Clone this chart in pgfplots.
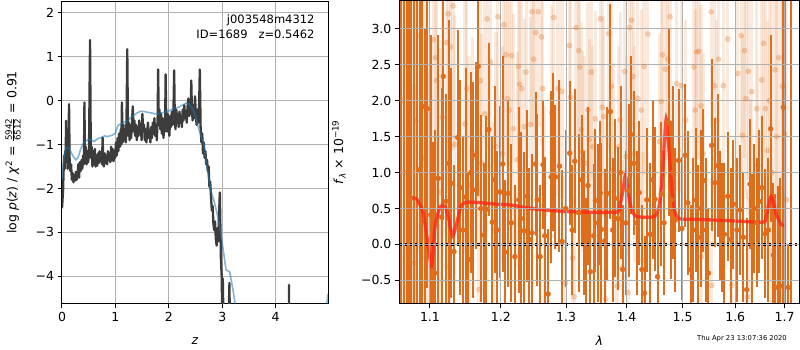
\documentclass[border=0pt]{standalone}
\usepackage{fontspec}
\setmainfont{DejaVu Sans}
\usepackage{amsmath}
\usepackage{pgfplots}
\pgfplotsset{compat=1.18}
\definecolor{darkline}{RGB}{60,60,60}
\definecolor{bluel}{RGB}{31,119,180}
\definecolor{gridc}{RGB}{176,176,176}
\definecolor{orng}{RGB}{222,110,28}
\definecolor{modelred}{RGB}{255,40,20}
\pgfplotsset{
 mystyle/.style={
  scale only axis, anchor=south west,
  tick align=outside, major tick length=4.4pt,
  xtick pos=bottom, ytick pos=left,
  grid=major, major grid style={gridc, line width=1pt},
  axis line style={line width=1pt}, major tick style={black, line width=1pt},
  tick label style={font=\fontsize{12.5}{15}\selectfont},
  label style={font=\fontsize{12.5}{15}\selectfont},
  /pgf/number format/assume math mode=true,
 }
}
\begin{document}
\begin{tikzpicture}
\useasboundingbox (0,0) rectangle (800pt,350pt);
% ---------------- left panel ----------------
\begin{axis}[mystyle, at={(62pt,46pt)}, width=266pt, height=303pt,
  xmin=0, xmax=4.98, ymin=-4.63, ymax=2.27,
  xtick={0,1,2,3,4}, xticklabels={0,1,2,3,4},
  ytick={-4,-3,-2,-1,0,1,2}, yticklabels={−4,−3,−2,−1,0,1,2},
  xlabel={\textit{z}},
  ylabel={log \textit{p}(\textit{z}) / \textit{χ}\textsuperscript{2} = $\frac{\text{5942}}{\text{6512}}$ = 0.91},
  xlabel style={at={(axis description cs:0.5,-0.122)}, anchor=center},
  ylabel style={at={(axis description cs:-0.184,0.5)}, anchor=center},
]
\addplot[darkline, line width=2.3pt, line join=round] coordinates {
(0.000,-2.45)(0.010,-2.25)(0.020,-2.05)(0.030,-1.60)(0.040,-1.25)(0.050,-1.55)(0.060,-1.15)(0.070,-1.40)(0.075,-0.46)(0.085,-1.35)(0.095,-1.15)(0.105,-1.55)(0.115,-1.20)(0.125,-0.60)(0.132,-0.08)(0.142,-1.30)(0.155,-1.60)(0.170,-1.45)(0.185,-1.80)(0.200,-1.65)(0.215,-1.86)(0.230,-1.70)(0.245,-1.82)(0.260,-1.62)(0.275,-1.80)(0.290,-1.70)(0.305,-1.45)(0.320,-1.75)(0.335,-1.40)(0.350,-1.60)(0.365,-1.35)(0.380,-1.55)(0.395,-1.25)(0.410,-1.45)(0.420,-0.04)(0.430,-1.35)(0.445,-1.05)(0.460,-1.45)(0.475,-1.15)(0.490,-1.40)(0.505,-1.20)(0.525,1.38)(0.540,-1.30)(0.555,-1.05)(0.570,-1.50)(0.585,-1.15)(0.600,-1.45)(0.615,-1.10)(0.630,-1.50)(0.645,-1.25)(0.660,-1.48)(0.675,-1.20)(0.690,-1.42)(0.705,-1.15)(0.720,-1.38)(0.735,-1.20)(0.750,-1.45)(0.760,-0.84)(0.772,-1.35)(0.785,-1.50)(0.800,-1.20)(0.815,-1.42)(0.830,-1.25)(0.845,-1.45)(0.860,-1.15)(0.875,-1.35)(0.890,-1.20)(0.905,-1.40)(0.920,-1.05)(0.935,-1.35)(0.950,-1.10)(0.965,-1.38)(0.980,-1.15)(0.995,-1.30)(1.010,-0.95)(1.025,-1.25)(1.040,-0.85)(1.055,-1.15)(1.070,-0.75)(1.085,-1.05)(1.100,-0.65)(1.112,-1.00)(1.122,-0.04)(1.135,-0.95)(1.150,-0.55)(1.165,-0.90)(1.180,-0.70)(1.195,-0.95)(1.208,-0.45)(1.222,1.17)(1.236,-0.80)(1.250,-0.50)(1.265,-0.90)(1.280,-0.55)(1.295,-0.85)(1.310,-0.50)(1.325,-0.13)(1.340,-0.70)(1.355,-0.45)(1.370,-0.80)(1.385,-0.55)(1.400,-0.90)(1.415,-0.60)(1.430,-0.80)(1.445,-0.45)(1.460,-0.75)(1.475,-0.55)(1.490,-0.90)(1.505,-0.30)(1.520,-0.70)(1.535,-0.55)(1.550,-0.90)(1.565,-0.65)(1.580,-0.95)(1.595,-0.70)(1.610,-0.50)(1.625,-0.85)(1.640,-0.70)(1.655,-0.95)(1.670,-0.60)(1.685,-0.85)(1.700,-0.50)(1.715,-0.75)(1.730,-0.40)(1.745,-0.80)(1.760,-0.55)(1.775,-0.90)(1.790,-0.45)(1.800,0.71)(1.812,-0.55)(1.825,-0.20)(1.840,-0.65)(1.855,-0.30)(1.870,-0.75)(1.885,-0.40)(1.900,-0.85)(1.915,-0.50)(1.930,-0.70)(1.940,0.60)(1.952,-0.45)(1.965,-0.70)(1.980,-0.30)(1.995,-0.55)(2.010,-0.80)(2.025,-0.35)(2.040,-0.60)(2.055,-0.25)(2.070,-0.55)(2.085,-0.35)(2.100,0.69)(2.112,-0.45)(2.125,-0.65)(2.140,-0.20)(2.155,-0.50)(2.170,-0.30)(2.185,-0.60)(2.200,-0.25)(2.215,-0.50)(2.230,-0.35)(2.245,-0.60)(2.260,-0.20)(2.275,-0.45)(2.290,-0.10)(2.305,-0.40)(2.320,-0.25)(2.335,-0.50)(2.350,-0.15)(2.365,0.05)(2.380,-0.35)(2.395,-0.05)(2.410,-0.30)(2.420,0.46)(2.432,-0.20)(2.445,-0.45)(2.460,-0.10)(2.475,-0.40)(2.490,0.10)(2.505,-0.30)(2.520,-0.55)(2.535,-0.20)(2.550,-0.50)(2.565,-0.25)(2.580,0.71)(2.595,-0.60)(2.610,-0.95)(2.625,-0.75)(2.640,-1.20)(2.655,-0.95)(2.670,-1.30)(2.685,-1.15)(2.700,-1.45)(2.715,-1.35)(2.730,-1.60)(2.745,-1.50)(2.760,-1.96)(2.775,-1.85)(2.790,-2.20)(2.805,-2.50)(2.820,-2.40)(2.835,-2.80)(2.850,-2.95)(2.865,-2.75)(2.880,-3.15)(2.895,-3.30)(2.910,-2.90)(2.925,-3.20)(2.940,-2.60)(2.955,-2.09)(2.975,-3.60)(2.990,-4.00)(3.000,-5.00)(3.010,-4.05)(3.030,-5.50)(3.100,-6.00)(3.135,-4.15)(3.150,-6.00)(3.200,-8.00)(4.245,-8.00)(4.250,-4.20)(4.255,-8.00)
};
\addplot[bluel, opacity=0.55, line width=1.6pt] coordinates {
(0.00,-1.80)(0.02,-1.50)(0.04,-1.25)(0.07,-1.10)(0.10,-1.05)(0.14,-1.10)(0.20,-1.25)(0.26,-1.35)(0.30,-1.30)(0.35,-1.10)(0.40,-0.97)(0.45,-0.92)(0.50,-0.88)(0.55,-0.90)(0.60,-0.93)(0.65,-0.88)(0.70,-0.85)(0.75,-0.83)(0.80,-0.80)(0.85,-0.82)(0.90,-0.80)(0.95,-0.78)(1.00,-0.74)(1.03,-0.62)(1.06,-0.55)(1.12,-0.52)(1.18,-0.48)(1.24,-0.45)(1.30,-0.37)(1.36,-0.32)(1.42,-0.27)(1.48,-0.24)(1.55,-0.25)(1.62,-0.27)(1.68,-0.28)(1.74,-0.30)(1.80,-0.30)(1.86,-0.28)(1.92,-0.26)(1.98,-0.24)(2.05,-0.20)(2.12,-0.17)(2.20,-0.14)(2.27,-0.09)(2.33,-0.05)(2.38,-0.08)(2.45,-0.20)(2.50,-0.35)(2.55,-0.60)(2.60,-0.80)(2.65,-0.95)(2.70,-1.40)(2.75,-1.80)(2.80,-2.10)(2.85,-2.30)(2.90,-2.55)(2.95,-2.85)(2.99,-3.15)(3.03,-3.50)(3.07,-3.85)(3.14,-3.90)(3.20,-4.30)(3.24,-4.60)(3.30,-5.00)(3.40,-6.00)(4.85,-6.00)(4.93,-4.90)(4.98,-4.40)
};
\node[anchor=north east, align=right, inner sep=0pt, font=\fontsize{11.5}{15}\selectfont] at (rel axis cs:0.95,0.955) {j003548m4312\\ID=1689\ \ \ z=0.5462};
\end{axis}
% ---------------- right panel ----------------
\begin{axis}[mystyle, xmode=log, at={(399.3pt,46pt)}, width=400pt, height=303pt,
  xmin=1.0594, xmax=1.7309, ymin=-0.83, ymax=3.39,
  xtick={1.1,1.2,1.3,1.4,1.5,1.6,1.7}, xticklabels={1.1,1.2,1.3,1.4,1.5,1.6,1.7},
  ytick={-0.5,0,0.5,1,1.5,2,2.5,3}, yticklabels={−0.5,0.0,0.5,1.0,1.5,2.0,2.5,3.0},
  axis on top,
  xlabel={\textit{λ}},
  ylabel={\textit{f}\textsubscript{\textit{λ}} × 10\textsuperscript{−19}},
  xlabel style={at={(axis description cs:0.5,-0.122)}, anchor=center},
  ylabel style={at={(axis description cs:-0.151,0.5)}, anchor=center},
]
% light (second) spectrum
\addplot[color=orng, only marks, mark=*, mark size=2.6pt, mark options={fill=orng, draw=orng, opacity=0.28},
  error bars/.cd, y dir=both, y explicit, error mark=none,
  error bar style={line width=3.2pt, orng, opacity=0.15}]
 table[x=x, y=y, y error=e, row sep=\\] {
x y e\\
1.0629 2.0 3\\ 1.0669 1.0 3\\ 1.0708 2.5 3\\ 1.0747 0.5 3\\ 1.0787 -0.26 2.5\\ 1.0813 1.72 2.5\\
1.0866 2.9 3\\ 1.0920 1.2 2.5\\ 1.0960 0.0 2.5\\ 1.1045 2.85 2.0\\ 1.1077 2.60 2.0\\ 1.1091 2.28 2.2\\
1.1145 0.73 2.0\\ 1.1167 1.77 1.8\\ 1.1227 2.81 2.0\\ 1.1249 3.21 1.8\\ 1.1259 -0.31 1.8\\ 1.1282 2.75 1.6\\
1.1315 3.32 2.0\\ 1.1342 1.39 1.8\\ 1.1482 1.68 1.8\\ 1.1510 2.17 1.6\\ 1.1539 0.82 1.8\\ 1.1585 1.29 1.6\\
1.1681 -0.63 1.5\\ 1.1705 2.28 1.6\\ 1.1724 1.13 1.8\\ 1.1767 1.82 1.6\\ 1.1800 3.14 1.8\\ 1.1849 2.54 1.6\\
1.1890 0.20 1.5\\ 1.1927 1.36 1.6\\ 1.1956 3.17 1.8\\ 1.2019 1.26 1.5\\ 1.2044 3.06 1.8\\ 1.2074 2.64 1.5\\
1.2096 2.03 1.6\\ 1.2126 1.87 1.5\\ 1.2158 2.63 1.5\\ 1.2185 1.61 1.6\\ 1.2242 1.18 1.5\\ 1.2260 2.48 1.5\\
1.2282 2.23 1.5\\ 1.2313 2.17 1.6\\ 1.2350 1.64 1.5\\ 1.2378 2.40 1.4\\ 1.2444 1.67 1.5\\ 1.2469 3.24 1.6\\
1.2495 2.58 1.5\\ 1.2526 2.95 1.5\\ 1.2564 3.24 1.6\\ 1.2613 2.89 1.5\\ 1.2633 2.17 1.4\\ 1.2665 0.43 1.5\\
1.2769 1.83 1.5\\ 1.2805 3.16 1.6\\ 1.2873 2.17 1.5\\ 1.2936 2.13 1.5\\ 1.2990 -0.54 1.5\\ 1.3053 2.77 1.5\\
1.3074 2.05 1.4\\ 1.3106 -0.19 1.5\\ 1.3130 -0.73 1.4\\ 1.3160 3.02 1.5\\ 1.3203 2.70 1.5\\ 1.3219 2.47 1.4\\
1.3244 1.60 1.5\\ 1.3268 1.29 1.4\\ 1.3301 1.13 1.5\\ 1.3354 1.87 1.5\\ 1.3374 1.46 1.4\\ 1.3410 2.40 1.5\\
1.3431 1.36 1.4\\ 1.3476 1.75 1.5\\ 1.3559 3.14 1.6\\ 1.3589 1.91 1.5\\ 1.3614 1.78 1.4\\ 1.3648 -0.76 1.5\\
1.3698 2.94 1.6\\ 1.3743 2.20 1.5\\ 1.3782 1.03 1.5\\ 1.3838 -0.58 1.5\\ 1.3866 1.36 1.4\\ 1.3892 1.73 1.5\\
1.3926 -0.33 1.5\\ 1.3969 2.41 1.5\\ 1.3995 1.22 1.4\\ 1.4025 -0.67 1.5\\ 1.4054 3.02 1.6\\ 1.4089 3.12 1.5\\
1.4115 2.34 1.4\\ 1.4141 1.26 1.5\\ 1.4198 2.03 1.5\\ 1.4257 1.87 1.4\\ 1.4289 -0.22 1.5\\ 1.4306 2.48 1.5\\
1.4373 2.93 1.5\\ 1.4581 1.43 1.5\\ 1.4611 1.99 1.4\\ 1.4634 2.64 1.5\\ 1.4683 2.44 1.5\\ 1.4730 2.58 1.4\\
1.4769 3.17 1.5\\ 1.4893 2.24 1.5\\ 1.4974 2.21 1.5\\ 1.5058 1.73 1.4\\ 1.5210 2.47 1.5\\ 1.5232 1.87 1.4\\
1.5262 2.68 1.5\\ 1.5303 2.69 1.5\\ 1.5341 1.93 1.4\\ 1.5351 -0.17 1.5\\ 1.5379 1.26 1.4\\ 1.5534 3.24 1.6\\
1.5546 -0.57 1.5\\ 1.5597 2.21 1.5\\ 1.5641 1.73 1.4\\ 1.5674 2.58 1.5\\ 1.5770 2.21 1.5\\ 1.5854 2.86 1.5\\
1.5931 -0.57 1.5\\ 1.6049 2.38 1.5\\ 1.6116 2.91 1.5\\ 1.6142 1.52 1.4\\ 1.6181 2.70 1.5\\ 1.6211 2.03 1.4\\
1.6240 -0.73 1.5\\ 1.6260 2.41 1.5\\ 1.6310 0.62 1.4\\ 1.6330 2.13 1.5\\ 1.6427 1.89 1.5\\ 1.6451 1.10 1.4\\
1.6528 2.29 1.6\\ 1.6562 2.80 1.6\\ 1.6603 1.89 1.6\\ 1.6650 1.31 1.8\\ 1.6684 2.0 2.5\\ 1.6736 1.0 2.5\\
1.6802 2.43 2.5\\ 1.6828 1.5 3\\ 1.6880 2.6 3\\ 1.6931 0.8 3\\ 1.6952 2.2 3\\ 1.6994 1.54 3\\ 1.7036 0.62 3\\
};
% dark (first) spectrum
\addplot[color=orng, only marks, mark=*, mark size=2.5pt, mark options={fill=orng, draw=orng},
  error bars/.cd, y dir=both, y explicit, error mark=none,
  error bar style={line width=2pt, orng}]
 table[x=x, y=y, y error=e, row sep=\\] {
x y e\\
1.0616 3.7 4.6\\ 1.0655 -1.0 4.5\\ 1.0694 3.6 4.5\\ 1.0721 0.99 3\\ 1.0743 0.64 3\\ 1.0787 -1.0 4.5\\
1.0826 3.6 4.5\\ 1.0862 1.04 3\\ 1.0897 1.92 3\\ 1.0933 -1.0 4.0\\ 1.0964 1.89 2.5\\ 1.1010 0.41 2.5\\
1.1045 -0.58 2\\ 1.1068 -0.40 2\\ 1.1113 0.92 2\\ 1.1159 0.38 1.8\\ 1.1181 2.34 2\\ 1.1218 0.6 1.5\\
1.1259 1.13 2\\ 1.1291 0.85 1.6\\ 1.1328 -0.1 1.2\\ 1.1380 1.49 1.5\\ 1.1412 0.79 1.5\\ 1.1454 0.2 1.3\\
1.1492 0.66 1.8\\ 1.1528 -0.21 1.2\\ 1.1567 1.0 1.4\\ 1.1595 0.76 1.5\\ 1.1642 1.24 1.3\\ 1.1671 2.48 1.8\\
1.1709 0.5 1.3\\ 1.1753 0.13 1.0\\ 1.1786 0.49 1.3\\ 1.1825 1.60 1.2\\ 1.1873 0.31 1.2\\ 1.1912 0.9 1.3\\
1.1949 0.2 1.1\\ 1.1985 0.73 1.2\\ 1.2029 1.12 1.5\\ 1.2059 -0.11 1.0\\ 1.2108 0.71 1.3\\ 1.2155 0.3 1.1\\
1.2208 -0.17 1.0\\ 1.2267 0.62 1.3\\ 1.2297 0.36 1.2\\ 1.2347 0.19 1.1\\ 1.2393 0.67 1.2\\ 1.2429 0.07 1.0\\
1.2469 0.16 1.1\\ 1.2521 1.12 1.0\\ 1.2546 0.62 1.2\\ 1.2592 -0.17 1.0\\ 1.2638 1.11 0.9\\ 1.2665 0.12 1.1\\
1.2716 -0.69 0.9\\ 1.2763 0.94 1.2\\ 1.2789 1.29 1.1\\ 1.2832 0.94 1.0\\ 1.2895 1.09 1.2\\ 1.2936 0.04 1.0\\
1.2995 0.5 1.1\\ 1.3058 1.27 1.0\\ 1.3098 0.2 0.9\\ 1.3139 1.16 1.0\\ 1.3203 0.44 1.1\\ 1.3252 0.9 0.9\\
1.3284 0.30 1.0\\ 1.3322 -0.26 0.9\\ 1.3354 0.82 1.1\\ 1.3394 -0.38 0.8\\ 1.3448 0.12 1.0\\ 1.3476 0.61 1.0\\
1.3522 0.3 1.1\\ 1.3556 0.72 1.0\\ 1.3576 0.21 1.2\\ 1.3631 0.05 1.0\\ 1.3669 0.71 1.2\\ 1.3726 1.85 1.5\\
1.3765 0.2 1.0\\ 1.3799 0.64 1.1\\ 1.3855 0.36 1.0\\ 1.3900 1.0 1.2\\ 1.3935 -0.35 0.9\\ 1.3986 0.3 1.0\\
1.4037 0.75 1.2\\ 1.4077 1.53 1.1\\ 1.4124 1.13 1.0\\ 1.4181 0.30 1.0\\ 1.4219 0.72 1.0\\ 1.4268 -0.35 0.9\\
1.4315 -0.68 0.8\\ 1.4355 0.62 1.0\\ 1.4415 0.14 1.0\\ 1.4456 0.9 1.1\\ 1.4501 0.63 1.0\\ 1.4545 -0.45 0.9\\
1.4611 0.70 1.0\\ 1.4661 0.3 1.0\\ 1.4742 1.70 1.3\\ 1.4791 0.62 1.1\\ 1.4824 1.0 1.2\\ 1.4864 0.34 1.0\\
1.4924 1.17 1.0\\ 1.4985 0.22 1.0\\ 1.5047 1.24 1.0\\ 1.5095 0.58 1.0\\ 1.5151 -0.35 0.9\\ 1.5201 0.2 1.0\\
1.5244 0.62 1.0\\ 1.5294 0.1 1.0\\ 1.5341 0.5 1.1\\ 1.5388 0.89 1.0\\ 1.5436 0.2 1.0\\ 1.5483 -0.40 0.9\\
1.5546 1.38 1.2\\ 1.5611 0.86 0.9\\ 1.5665 1.1 1.0\\ 1.5712 0.4 0.9\\ 1.5751 0.24 0.9\\ 1.5790 0.14 1.0\\
1.5854 0.67 0.9\\ 1.5919 0.07 1.0\\ 1.5965 0.56 0.9\\ 1.6033 0.2 1.0\\ 1.6096 0.48 0.9\\ 1.6161 0.1 0.9\\
1.6227 -0.63 1.0\\ 1.6294 0.84 0.9\\ 1.6340 -0.02 1.0\\ 1.6381 0.5 0.9\\ 1.6427 0.30 0.9\\ 1.6481 0.6 1.0\\
1.6532 0.79 1.0\\ 1.6597 0.15 0.9\\ 1.6664 0.20 1.0\\ 1.6711 1.61 1.3\\ 1.6767 -0.15 1.0\\ 1.6802 -0.60 1.3\\
1.6870 -0.59 1.4\\ 1.6911 -0.58 1.5\\ 1.6973 1.91 4\\ 1.7015 -1.0 4.5\\ 1.7077 -0.6 0.6\\ 1.7134 3.6 4.5\\
};
% model
\addplot[modelred, opacity=0.8, line width=3.3pt, smooth, tension=0.4] coordinates {
(1.0734,0.65)(1.0823,0.63)(1.0910,0.43)(1.0977,-0.03)(1.1023,-0.31)(1.1068,0.24)(1.1136,0.52)(1.1204,0.53)(1.1250,0.38)(1.1310,0.12)(1.1366,0.29)(1.1436,0.55)(1.1553,0.59)(1.1937,0.56)(1.2133,0.55)(1.2536,0.49)(1.2952,0.46)(1.3273,0.45)(1.3827,0.45)(1.3883,0.52)(1.3940,0.75)(1.3981,0.96)(1.4025,0.75)(1.4084,0.50)(1.4170,0.39)(1.4492,0.39)(1.4581,0.57)(1.4640,1.08)(1.4701,1.75)(1.4760,1.22)(1.4820,0.62)(1.4911,0.37)(1.5250,0.35)(1.5886,0.33)(1.6549,0.31)(1.6617,0.38)(1.6719,0.67)(1.6823,0.43)(1.6925,0.28)(1.7015,0.26)
};
\addplot[black, line width=2.4pt, dash pattern=on 2.2pt off 3pt] coordinates {(1.0594,0) (1.7309,0)};
\end{axis}
\node[anchor=east, inner sep=0pt, font=\fontsize{6.8}{8}\selectfont] at (787pt,11pt) {Thu Apr 23 13:07:36 2020};
\end{tikzpicture}
\end{document}
